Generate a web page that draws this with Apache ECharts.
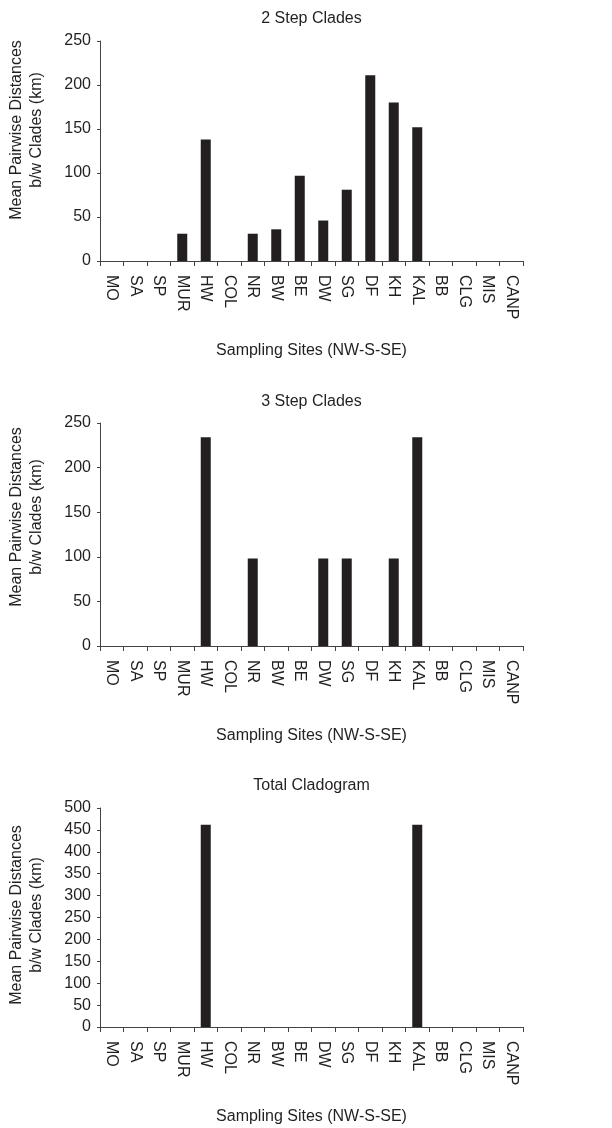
<!DOCTYPE html>
<html>
<head>
<meta charset="utf-8">
<script src="https://cdn.jsdelivr.net/npm/echarts@6/dist/echarts.min.js"></script>
<style>
html,body{margin:0;padding:0;background:#fff;}
#main{width:612px;height:1128px;}
</style>
</head>
<body>
<div id="main"></div>
<script>
const sites = ["MO","SA","SP","MUR","HW","COL","NR","BW","BE","DW","SG","DF","KH","KAL","BB","CLG","MIS","CANP"];
const twoStep = [0,0,0,31,138,0,31,36,97,46,81,211,180,152,0,0,0,0];
const threeStep = [0,0,0,0,234,0,98,0,0,98,98,0,98,234,0,0,0,0];
const totalClado = [0,0,0,0,462,0,0,0,0,0,0,0,0,462,0,0,0,0];
const titles = ["2 Step Clades","3 Step Clades","Total Cladogram"];
const yMax = [250,250,500];
const xName = "Sampling Sites (NW-S-SE)";
const yName = "Mean Pairwise Distances\nb/w Clades (km)";

const FONT = "'Liberation Sans', Arial, Helvetica, sans-serif";
const TXT = "#231f20";
const AX = "#444";
const grids = [
  {left:100, width:423, top:41, height:220},
  {left:100, width:423, top:423, height:223},
  {left:100, width:423, top:808, height:219}
];
const titleTops = [11, 394, 778];
const yNameCenters = [130, 517, 915];
const seriesData = [twoStep, threeStep, totalClado];

const chart = echarts.init(document.getElementById('main'), null, {renderer:'canvas'});
const option = {
  backgroundColor:'#fff',
  animation:false,
  textStyle:{fontFamily:FONT, color:TXT},
  title: titles.map((t,i)=>({
    text:t, left:311.5, textAlign:'center', top:titleTops[i], padding:0,
    textStyle:{fontSize:16, fontWeight:'normal', color:TXT, fontFamily:FONT}
  })),
  grid: grids.map(g=>Object.assign({containLabel:false}, g)),
  xAxis: grids.map((g,i)=>({
    type:'category', gridIndex:i, data:sites,
    boundaryGap:true,
    axisLine:{show:true, lineStyle:{color:AX, width:1}},
    axisTick:{show:true, interval:0, length:5, lineStyle:{color:AX}},
    axisLabel:{show:true, interval:0, rotate:-90, margin:14, fontSize:16, color:TXT, fontFamily:FONT},
    splitLine:{show:false},
    name:xName, nameLocation:'middle', nameGap:82,
    nameTextStyle:{fontSize:16, color:TXT, fontFamily:FONT}
  })),
  yAxis: grids.map((g,i)=>({
    type:'value', gridIndex:i, min:0, max:yMax[i], interval:50,
    axisLine:{show:true, lineStyle:{color:AX, width:1}},
    axisTick:{show:true, length:3, lineStyle:{color:AX}},
    axisLabel:{fontSize:16, color:TXT, margin:9, fontFamily:FONT},
    splitLine:{show:false}
  })),
  graphic: yNameCenters.map(c=>({
    type:'text', x:27, y:c, rotation:Math.PI/2,
    style:{text:yName, fill:TXT, font:"16px "+FONT, textAlign:'center', textVerticalAlign:'middle', lineHeight:20}
  })),
  series: seriesData.map((d,i)=>({
    type:'bar', xAxisIndex:i, yAxisIndex:i, data:d, barWidth:10,
    itemStyle:{color:'#231f20'}
  }))
};
chart.setOption(option);
</script>
</body>
</html>
